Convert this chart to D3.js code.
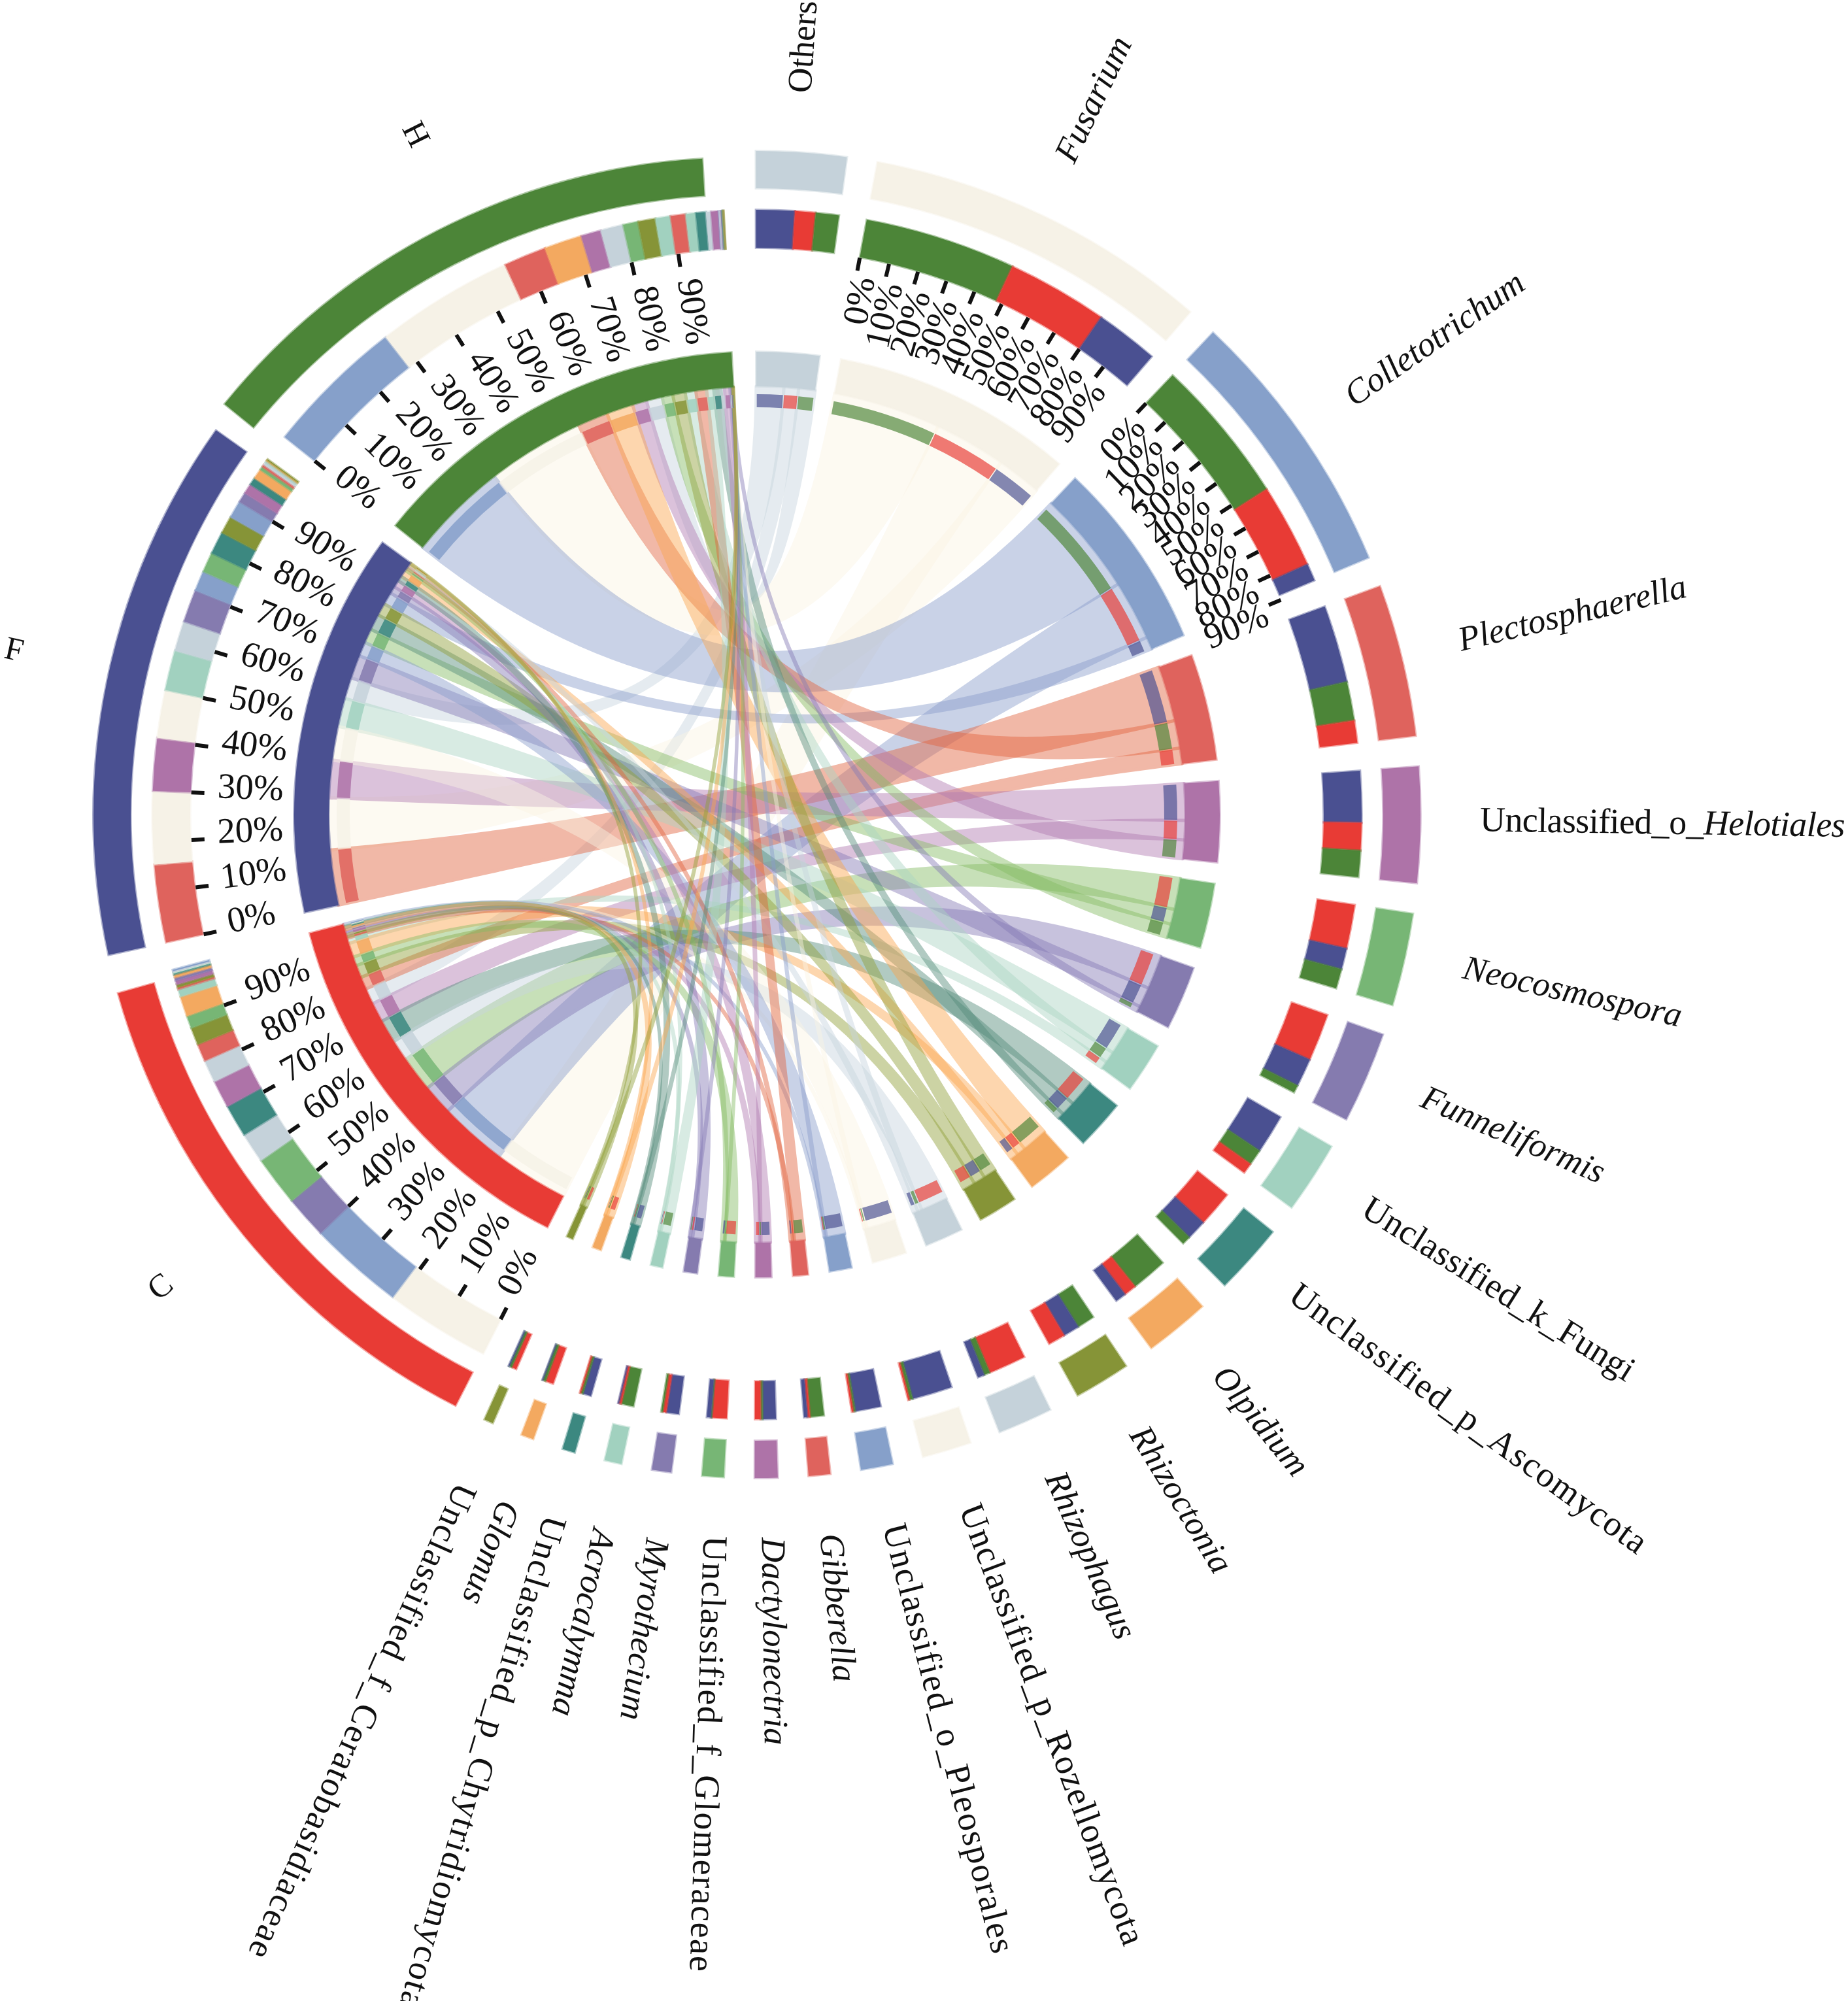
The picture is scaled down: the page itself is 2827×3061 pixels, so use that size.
<!DOCTYPE html>
<html><head><meta charset="utf-8">
<script src="https://cdn.jsdelivr.net/npm/d3@7/dist/d3.min.js"></script>
<style>html,body{margin:0;padding:0;background:#fff;overflow:hidden}svg{display:block}
text{font-family:"Liberation Serif","Times New Roman",serif;fill:#111}</style></head>
<body><svg id="c" width="2827" height="3061"></svg>
<script>
const taxa=["Others","Fusarium","Colletotrichum","Plectosphaerella","Unclassified_o_Helotiales","Neocosmospora","Funneliformis","Unclassified_k_Fungi","Unclassified_p_Ascomycota","Olpidium","Rhizoctonia","Rhizophagus","Unclassified_p_Rozellomycota","Unclassified_o_Pleosporales","Gibberella","Dactylonectria","Unclassified_f_Glomeraceae","Myrothecium","Acrocalymma","Unclassified_p_Chytridiomycota","Glomus","Unclassified_f_Ceratobasidiaceae"];
const taxonColors=["#C5D2DA","#F6F2E7","#86A0CA","#DF635D","#AE73A8","#77B675","#857BAF","#A1D1BF","#3C8880","#F3A960","#869437","#C5D2DA","#F6F2E7","#86A0CA","#DF635D","#AE73A8","#77B675","#857BAF","#A1D1BF","#3C8880","#F3A960","#869437"];
const ribbonColors=["#C7D5DE","#FBF4E4","#899DCC","#E2633E","#B17AB1","#85BC63","#857AB6","#ABD5C3","#548B7A","#FBA64D","#909F37","#C7D5DE","#FBF4E4","#899DCC","#E2633E","#B17AB1","#85BC63","#857AB6","#ABD5C3","#548B7A","#FBA64D","#909F37"];
const taxonSize=[7.9,30.3,23.8,13.3,10.1,8.1,8.0,6.3,6.2,5.7,4.9,4.8,4.3,2.8,1.9,2.0,1.9,1.7,1.5,1.1,1.1,0.8];
const italicTaxa=["Fusarium","Colletotrichum","Plectosphaerella","Neocosmospora","Funneliformis","Olpidium","Rhizoctonia","Rhizophagus","Gibberella","Dactylonectria","Myrothecium","Acrocalymma","Glomus"];
const groups=["C","F","H"];
const groupColors={C:"#E83B35",F:"#4A5091",H:"#4C8538"};
const groupSize=[48.2,48.2,48.2];
const taxonStackOrder=["FCH","HCF","HCF","FHC","FCH","CFH","CFH","FHC","CFH","HCF","HFC","CHF","FHC","FHC","HCF","FHC","CHF","FCH","HCF","FHC","CHF","CHF"];
const taxonStackShare=[[.47,.25,.28],[.48,.32,.20],[.59,.34,.07],[.56,.28,.16],[.49,.26,.25],[.52,.25,.23],[.57,.34,.09],[.60,.24,.16],[.56,.31,.13],[.61,.21,.18],[.35,.32,.33],[.75,.12,.13],[.90,.07,.03],[.88,.07,.05],[.70,.13,.17],[.63,.10,.27],[.75,.05,.20],[.72,.20,.08],[.80,.15,.05],[.72,.20,.08],[.70,.25,.05],[.60,.30,.10]];
const cStackTaxa=[1,2,6,5,11,8,4,0,3,10,16,9,7,14,21,15,17,20,19,18,12,13];
const cStackShare=[.21,.19,.085,.10,.06,.065,.055,.045,.035,.035,.025,.04,.015,.004,.006,.008,.006,.006,.003,.002,.002,.003];
const fStackTaxa=[3,1,4,12,7,0,6,13,5,8,10,2,17,15,19,9,16,14,11,18,20,21];
const fStackShare=[.155,.145,.105,.095,.08,.06,.065,.04,.04,.045,.035,.035,.02,.02,.015,.02,.007,.005,.006,.003,.002,.002];
const hStackTaxa=[2,1,3,9,4,0,5,10,7,14,18,8,11,15,13,12,6,17,16,19,20,21];
const hStackShare=[.28,.275,.085,.075,.04,.045,.03,.035,.03,.03,.02,.02,.01,.015,.002,.002,.002,.001,.001,.001,.0005,.0005];
const tickValues=[0,.1,.2,.3,.4,.5,.6,.7,.8,.9];
const tickedTaxa=["Fusarium","Colletotrichum"];

const CX=1158,CY=1246,GAP=2.66,START=-0.1;
const rOuter=[958,1015],rMid=[867,925],rInner=[655,708],rStack=[623,643];
const labelLength={"Unclassified_o_Helotiales":558,"Unclassified_k_Fungi":482,"Unclassified_p_Ascomycota":665,"Unclassified_p_Rozellomycota":718,"Unclassified_o_Pleosporales":678,"Unclassified_f_Glomeraceae":668,"Unclassified_p_Chytridiomycota":785,"Unclassified_f_Ceratobasidiaceae":791};
const labelTilt={"Unclassified_k_Fungi":-1,"Unclassified_p_Ascomycota":-6,"Unclassified_p_Rozellomycota":-4,"Unclassified_o_Pleosporales":-4,"Unclassified_f_Glomeraceae":-2};
const labelInset={"Unclassified_p_Ascomycota":8};
const tickStretch={"Colletotrichum":1.135};
const rad=d=>d*Math.PI/180;
const svg=d3.select("#c");
const root=svg.append("g").attr("transform",`translate(${CX},${CY})`);
const gRib=root.append("g"),gStack=root.append("g"),gRing=root.append("g"),gText=root.append("g");
const arc=d3.arc();
const ribbon=d3.ribbon().radius(rInner[0]);

let cursor=START;
const place=(name,size,color,kind)=>{const s={name,size,color,kind,a0:cursor,a1:cursor+size};s.scale=d3.scaleLinear().domain([0,1]).range([rad(s.a0),rad(s.a1)]);cursor+=size+GAP;return s;};
const tS=taxa.map((n,i)=>place(n,taxonSize[i],taxonColors[i],"taxon"));
const gS={};groups.forEach((g,i)=>gS[g]=place(g,groupSize[i],groupColors[g],"group"));

const taxonSpan=tS.map((s,i)=>{const o={};let c=0;taxonStackOrder[i].split("").forEach((g,j)=>{o[g]=[c,c+taxonStackShare[i][j]];c+=taxonStackShare[i][j];});return o;});
const groupSpan={};
[["C",cStackTaxa,cStackShare],["F",fStackTaxa,fStackShare],["H",hStackTaxa,hStackShare]].forEach(([g,ts,sh])=>{const total=d3.sum(sh);let c=0;groupSpan[g]={order:ts};ts.forEach((t,j)=>{groupSpan[g][t]=[c/total,(c+sh[j])/total];c+=sh[j];});});

tS.forEach((s,i)=>groups.forEach(g=>{
  const a=taxonSpan[i][g],b=groupSpan[g][i],G=gS[g];
  gRib.append("path").attr("d",ribbon({source:{startAngle:s.scale(a[0]),endAngle:s.scale(a[1])},target:{startAngle:G.scale(b[0]),endAngle:G.scale(b[1])}}))
    .attr("fill",ribbonColors[i]).attr("stroke",ribbonColors[i]).attr("stroke-width",5).attr("stroke-linejoin","round").attr("opacity",.45);
}));
const ringArc=(g,r,a0,a1,fill,op)=>g.append("path").attr("d",arc({innerRadius:r[0],outerRadius:r[1],startAngle:a0,endAngle:a1})).attr("fill",fill).attr("fill-opacity",op===undefined?1:op);
const strokeIt=(p,c)=>p.attr("stroke",c).attr("stroke-opacity",.45).attr("stroke-width",3.5).attr("stroke-linejoin","miter");
const pad=rad(.07);
const subPad=(x0,x1)=>x1-x0>pad*3?[x0+pad,x1-pad]:[x0,x1];

tS.forEach((s,i)=>{
  taxonStackOrder[i].split("").forEach(g=>{
    const a=taxonSpan[i][g],x0=s.scale(a[0]),x1=s.scale(a[1]),c=groupColors[g];
    strokeIt(ringArc(gRing,rMid,x0,x1,c),c);
    const [p0,p1]=subPad(x0,x1);
    ringArc(gStack,rStack,p0,p1,c,.68);
  });
});
groups.forEach(g=>{
  const G=gS[g];
  groupSpan[g].order.forEach(t=>{
    const b=groupSpan[g][t],x0=G.scale(b[0]),x1=G.scale(b[1]),c=taxonColors[t];
    strokeIt(ringArc(gRing,rMid,x0,x1,c),c);
    const [p0,p1]=subPad(x0,x1);
    ringArc(gStack,rStack,p0,p1,c,.85);
  });
});
// the reference's outer group arcs are slightly trimmed, and the H arc sits off-centre
const outerShift={C:[.1,-.75],F:[0,-.6],H:[.3,-.15]};
const outerOffset={C:[0,0],F:[0,0],H:[-25,10]};
[...tS,...groups.map(g=>gS[g])].forEach(s=>{
  const group=s.kind==="group",sh=group?outerShift[s.name]:[0,0],off=group?outerOffset[s.name]:[0,0];
  strokeIt(ringArc(gRing,rOuter,rad(s.a0+sh[0]),rad(s.a1+sh[1]),s.color),s.color).attr("transform",`translate(${off[0]},${off[1]})`);
  strokeIt(ringArc(gRing,rInner,rad(s.a0),rad(s.a1),s.color),s.color);
});
const polar=(a,r)=>[r*Math.sin(a),-r*Math.cos(a)];
[...tickedTaxa.map(n=>tS[taxa.indexOf(n)]),...groups.map(g=>gS[g])].forEach(s=>{
  const stretch=tickStretch[s.name]||1;
  tickValues.forEach(v=>{
    const a=s.scale(v*stretch),[x1,y1]=polar(a,rMid[0]-1),[x2,y2]=polar(a,rMid[0]-21);
    gText.append("line").attr("x1",x1).attr("y1",y1).attr("x2",x2).attr("y2",y2).attr("stroke","#111").attr("stroke-width",6);
    const deg=a*180/Math.PI,right=deg<180,[tx,ty]=polar(a,rMid[0]-(right?29:41));
    gText.append("text").attr("transform",`translate(${tx},${ty}) rotate(${right?deg-90:deg+90})`)
      .attr("text-anchor",right?"end":"start").attr("dy",right?".52em":".12em").attr("font-size",55).text(d3.format(".0%")(v));
  });
});
tS.forEach(s=>{
  const mid=(s.a0+s.a1)/2,r=(mid>185?1118:1106)-(labelInset[s.name]||0),[x,y]=polar(rad(mid),r);
  const t=gText.append("text").attr("transform",`translate(${x},${y}) rotate(${mid-90+(labelTilt[s.name]||0)})`).attr("dy",".15em").attr("font-size",labelLength[s.name]?54:53);
  if(s.name==="Unclassified_o_Helotiales"){t.append("tspan").text("Unclassified_o_");t.append("tspan").attr("font-style","italic").text("Helotiales");}
  else t.attr("font-style",italicTaxa.includes(s.name)?"italic":"normal").text(s.name);
  if(labelLength[s.name]){const n=t.node(),len=n.getComputedTextLength();t.style("letter-spacing",((labelLength[s.name]-len)/s.name.length)+"px");}
});
groups.forEach(g=>{
  const s=gS[g],mid=(s.a0+s.a1)/2+.7,[x,y]=polar(rad(mid),1164);
  gText.append("text").attr("transform",`translate(${x},${y}) rotate(${mid+90})`).attr("text-anchor","middle").attr("dy",".34em").attr("font-size",50).text(g);
});
</script></body></html>
